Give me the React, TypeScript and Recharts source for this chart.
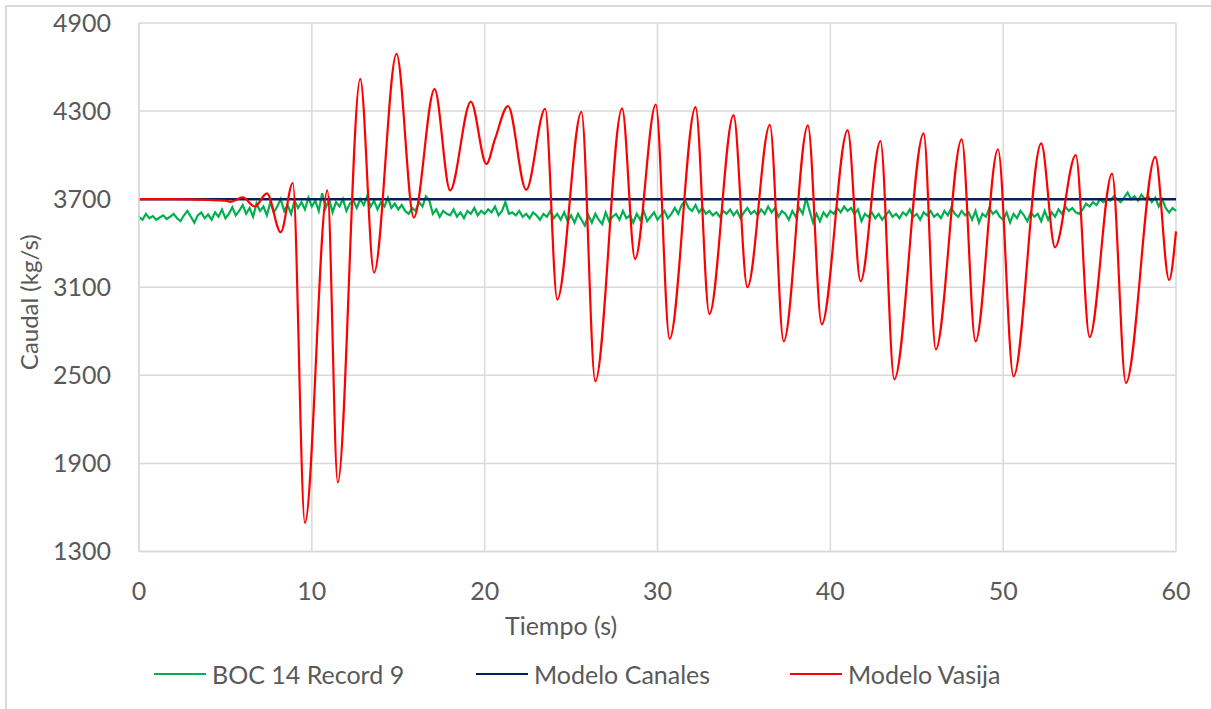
import { LineChart, Line, XAxis, YAxis, CartesianGrid, Label } from "recharts";

// BOC 14 Record 9 – sampled every 0.2 s from t = 0 to 60
const bocStep = 0.2;
const bocValues = [
  3580, 3560, 3600, 3570, 3585, 3560, 3575, 3590, 3565, 3580,
  3600, 3570, 3550, 3590, 3620, 3580, 3540, 3590, 3610, 3570,
  3595, 3560, 3610, 3580, 3630, 3570, 3600, 3645, 3590, 3620,
  3660, 3600, 3640, 3580, 3670, 3620, 3650, 3590, 3680, 3610,
  3650, 3700, 3620, 3660, 3600, 3690, 3640, 3680, 3630, 3710,
  3650, 3690, 3620, 3740, 3640, 3700, 3610, 3680, 3650, 3700,
  3620, 3670, 3690, 3640, 3700, 3660, 3720, 3650, 3690, 3630,
  3680, 3650, 3710, 3640, 3670, 3630, 3660, 3620, 3600, 3640,
  3620, 3680, 3650, 3720, 3690, 3600, 3630, 3580, 3620, 3600,
  3590, 3630, 3580, 3610, 3570, 3620, 3600, 3640, 3590, 3620,
  3600, 3630, 3610, 3650, 3590, 3620, 3680, 3600, 3610, 3590,
  3620, 3580, 3600, 3570, 3610, 3590, 3560, 3600, 3580, 3620,
  3570, 3600, 3560, 3610, 3550, 3590, 3540, 3600, 3560, 3520,
  3590, 3540, 3600, 3560, 3530, 3610, 3550, 3580, 3600, 3560,
  3620, 3570, 3590, 3540, 3600, 3560, 3620, 3550, 3580, 3610,
  3560, 3590, 3620, 3570, 3600, 3640, 3600, 3660, 3690, 3640,
  3620, 3660, 3610, 3640, 3600, 3620, 3590, 3610, 3580, 3620,
  3600, 3630, 3590, 3620, 3570, 3610, 3640, 3600, 3620, 3590,
  3630, 3600, 3650, 3610, 3640, 3580, 3620, 3600, 3560, 3620,
  3580, 3640, 3600, 3710, 3620, 3540, 3600, 3550, 3610, 3580,
  3620, 3600, 3640, 3610, 3650, 3620, 3640, 3600, 3630, 3550,
  3600, 3580, 3610, 3570, 3600, 3560, 3590, 3620, 3580, 3600,
  3570, 3610, 3590, 3630, 3580, 3600, 3560, 3610, 3590, 3620,
  3580, 3600, 3570, 3620, 3590, 3640, 3600, 3580, 3620, 3590,
  3610, 3560, 3620, 3540, 3600, 3580, 3640, 3600, 3620, 3580,
  3560, 3610, 3540, 3600, 3570, 3620, 3590, 3550, 3610, 3580,
  3600, 3550, 3620, 3560, 3610, 3580, 3630, 3600, 3650, 3620,
  3640, 3610, 3600, 3630, 3670, 3650, 3680, 3660, 3700, 3680,
  3700, 3690, 3720, 3700, 3680, 3710, 3745, 3700, 3720, 3690,
  3730, 3700, 3720, 3680, 3710, 3650, 3700, 3640, 3610, 3640, 3620,
];

// Modelo Canales
const canalesTime = [0, 60];
const canalesValues = [3700, 3700];

// Modelo Vasija – turning points of the oscillation
const vasijaTime = [
  0, 2, 4, 5, 5.3, 6, 6.7, 7.4, 8.2, 8.9, 9.6, 10.9, 11.5, 12.8, 13.6, 14.9,
  15.9, 17.1, 18, 19.2, 20.1, 20.6, 21.35, 22.4, 23.5, 24.2, 25.6, 26.4, 27.95,
  28.7, 29.9, 30.7, 32.2, 33, 34.4, 35.2, 36.5, 37.3, 38.7, 39.5, 41, 41.75,
  42.9, 43.7, 45.4, 46.1, 47.6, 48.4, 49.7, 50.6, 52.2, 53, 54.2, 55, 56.3,
  57.1, 58.8, 59.6, 60,
];
const vasijaValues = [
  3700, 3700, 3695, 3690, 3682, 3712, 3650, 3740, 3475, 3810, 1495, 3760, 1770, 4520, 3200, 4690,
  3575, 4450, 3760, 4365, 3940, 4110, 4334, 3763, 4316, 3016, 4295, 2460, 4318,
  3293, 4345, 2749, 4327, 2917, 4273, 3100, 4207, 2731, 4203, 2847, 4170, 3141,
  4096, 2473, 4148, 2677, 4108, 2731, 4040, 2493, 4080, 3372, 4001, 2760, 3874,
  2449, 3988, 3150, 3480,
];

const xTicks = [0, 10, 20, 30, 40, 50, 60];
const yTicks = [1300, 1900, 2500, 3100, 3700, 4300, 4900];

const bocData = bocValues.map((v, i) => ({ t: +(i * bocStep).toFixed(1), v }));
const canalesData = canalesTime.map((t, i) => ({ t, v: canalesValues[i] }));
const vasijaData = vasijaTime.map((t, i) => ({ t, v: vasijaValues[i] }));

const FONT = "Lato, 'Open Sans', sans-serif";
const TEXT = "#595959";
const GRID = "#d9d9d9";

const legendItems = [
  { name: "BOC 14 Record 9", color: "#00b050", left: 154 },
  { name: "Modelo Canales", color: "#002060", left: 476 },
  { name: "Modelo Vasija", color: "#ff0000", left: 790 },
];

export default function App() {
  return (
    <div style={{ position: "fixed", left: 0, top: 0, width: 1211, height: 709, background: "#fff", overflow: "hidden", fontFamily: FONT }}>
      <div style={{ position: "absolute", left: 5, top: 5, width: 1300, height: 800, borderLeft: `2px solid ${GRID}`, borderTop: `2px solid ${GRID}` }} />
      <LineChart width={1211} height={709} margin={{ top: 23, right: 35, left: 19, bottom: 97.5 }} style={{ position: "absolute", left: 0, top: 0 }}>
        <CartesianGrid stroke={GRID} strokeWidth={1.5} />
        <XAxis
          dataKey="t"
          type="number"
          domain={[0, 60]}
          ticks={xTicks}
          height={60}
          tickSize={0}
          tickMargin={31}
          tickLine={false}
          axisLine={{ stroke: GRID, strokeWidth: 1.5 }}
          tick={{ fill: TEXT, fontSize: 25, fontFamily: FONT }}
        >
          <Label
            content={(props: any) => {
              const vb = props.viewBox;
              return (
                <text x={vb.x + vb.width * 0.407} y={vb.y + 83} textAnchor="middle" fill={TEXT} fontSize={25} fontFamily={FONT}>
                  Tiempo (s)
                </text>
              );
            }}
          />
        </XAxis>
        <YAxis
          type="number"
          domain={[1300, 4900]}
          ticks={yTicks}
          width={120}
          tickSize={0}
          tickMargin={28}
          tickLine={false}
          axisLine={{ stroke: GRID, strokeWidth: 1.5 }}
          tick={{ fill: TEXT, fontSize: 25, fontFamily: FONT }}
        >
          <Label
            content={(props: any) => {
              const vb = props.viewBox;
              const cx = 28;
              const cy = vb.y + vb.height / 2 + 15;
              return (
                <text x={cx} y={cy} transform={`rotate(-90 ${cx} ${cy})`} textAnchor="middle" dominantBaseline="central" fill={TEXT} fontSize={24} fontFamily={FONT}>
                  Caudal (kg/s)
                </text>
              );
            }}
          />
        </YAxis>
        <Line data={bocData} dataKey="v" name="BOC 14 Record 9" type="linear" stroke="#00b050" strokeWidth={2.2} dot={false} isAnimationActive={false} />
        <Line data={canalesData} dataKey="v" name="Modelo Canales" type="linear" stroke="#002060" strokeWidth={2.5} dot={false} isAnimationActive={false} />
        <Line data={vasijaData} dataKey="v" name="Modelo Vasija" type="monotone" stroke="#ff0000" strokeWidth={2.2} dot={false} isAnimationActive={false} />
      </LineChart>
      {legendItems.map((it) => (
        <div key={it.name} style={{ position: "absolute", left: it.left, top: 658, height: 32, display: "flex", alignItems: "center", color: TEXT, fontSize: 25 }}>
          <span style={{ display: "inline-block", width: 52, height: 2.5, background: it.color, marginRight: 6 }} />
          <span>{it.name}</span>
        </div>
      ))}
    </div>
  );
}
